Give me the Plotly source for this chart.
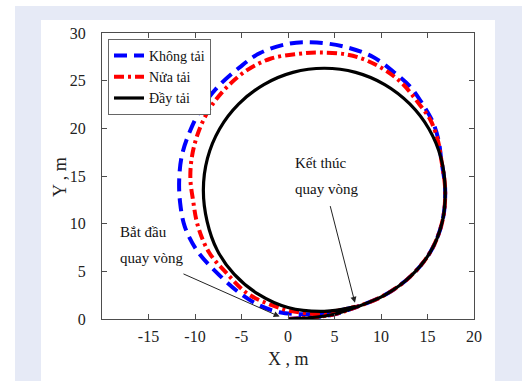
import plotly.graph_objects as go

# Trajectory data, X, Y in metres
khong_tai_x = [0.0, 2.5, 5.0, 7.27, 10.4, 13.2, 15.35, 16.6, 16.9, 16.46, 16.2, 15.6, 14.5, 13.2, 11.5, 9.1, 6.3, 3.1, 0.2, -3.0, -5.2, -7.6, -9.2, -10.5, -11.4, -11.7, -11.6, -11.1, -9.8, -7.8, -5.3, -3.0, -0.9, 1.5, 4.0, 7.3]
khong_tai_y = [0.0, 0.15, 0.5, 1.23, 2.51, 4.5, 7.1, 10.25, 13.55, 16.85, 18.7, 20.6, 22.5, 24.3, 25.8, 27.5, 28.5, 29.0, 28.9, 27.9, 26.4, 24.3, 22.3, 19.8, 17.2, 14.6, 12.2, 9.7, 7.2, 5.0, 2.8, 1.4, 0.7, 0.5, 0.6, 1.3]

nua_tai_x = [0.0, 2.5, 5.0, 7.27, 10.4, 13.2, 15.35, 16.6, 16.9, 16.46, 16.1, 15.3, 13.9, 12.4, 10.6, 8.5, 6.3, 3.4, 1.0, -1.9, -4.4, -6.6, -8.4, -9.6, -10.3, -10.5, -10.2, -9.7, -8.5, -6.6, -4.4, -1.9, 0.5, 3.0, 5.5, 7.3]
nua_tai_y = [0.0, 0.15, 0.5, 1.23, 2.51, 4.5, 7.1, 10.25, 13.55, 16.85, 18.8, 20.9, 22.8, 24.6, 26.0, 27.1, 27.75, 27.95, 27.8, 27.3, 26.1, 24.3, 22.1, 19.7, 17.2, 14.8, 12.4, 9.8, 7.0, 4.8, 2.7, 1.5, 0.8, 0.6, 0.9, 1.3]

day_tai_x = [0.0, 2.5, 5.0, 7.27, 10.4, 13.2, 15.35, 16.6, 16.9, 16.46, 15.16, 13.09, 10.4, 7.27, 3.9, 0.53, -2.6, -5.29, -7.36, -8.66, -9.1, -8.7, -7.6, -5.8, -3.2, 0.0, 3.9, 7.27]
day_tai_y = [0.0, 0.15, 0.5, 1.23, 2.51, 4.5, 7.1, 10.25, 13.55, 16.85, 19.93, 22.56, 24.59, 25.87, 26.3, 25.87, 24.59, 22.56, 19.93, 16.85, 13.55, 10.25, 7.2, 4.7, 2.6, 1.2, 0.8, 1.3]

series_names = ["Không tải", "Nửa tải", "Đầy tải"]
x_ticks = [-15, -10, -5, 0, 5, 10, 15, 20]
y_ticks = [0, 5, 10, 15, 20, 25, 30]

FONT = "Liberation Serif"

fig = go.Figure()
fig.add_trace(go.Scatter(x=khong_tai_x, y=khong_tai_y, mode="lines", name=series_names[0],
                         line=dict(color="#0000ff", width=4, dash="13px,7px", shape="spline", smoothing=1.0)))
fig.add_trace(go.Scatter(x=nua_tai_x, y=nua_tai_y, mode="lines", name=series_names[1],
                         line=dict(color="#ff0000", width=4, dash="10px,4px,3px,4px", shape="spline", smoothing=1.0)))
fig.add_trace(go.Scatter(x=day_tai_x, y=day_tai_y, mode="lines", name=series_names[2],
                         line=dict(color="#000000", width=3.2, shape="spline", smoothing=1.0)))

# Page background frames (lavender frame + white panel)
L, R, T, B = 102, 51, 33, 62
PW, PH = 525 - L - R, 381 - T - B
def px(xp):
    return (xp - L) / PW
def py(yp):
    return (381 - B - yp) / PH

fig.add_shape(type="rect", xref="paper", yref="paper", x0=px(15), x1=px(522), y0=py(381), y1=py(6),
              fillcolor="#e6eaf6", line=dict(width=0), layer="below")
fig.add_shape(type="rect", xref="paper", yref="paper", x0=px(41), x1=px(495), y0=py(381), y1=py(20),
              fillcolor="#ffffff", line=dict(width=0), layer="below")

# Axis titles
title_font = dict(family=FONT, size=18, color="#222222")
fig.add_annotation(xref="paper", yref="paper", x=px(288), y=py(359), text="X , m", showarrow=False,
                   xanchor="center", yanchor="middle", font=title_font)
fig.add_annotation(xref="paper", yref="paper", x=px(60), y=py(177), text="Y , m", showarrow=False,
                   textangle=-90, xanchor="center", yanchor="middle", font=title_font)

# Text annotations
ann_font = dict(family=FONT, size=15, color="#111111")
fig.add_annotation(x=0.5, y=16.4, text="Kết thúc", showarrow=False, xanchor="left", yanchor="middle", font=ann_font)
fig.add_annotation(x=0.5, y=13.6, text="quay vòng", showarrow=False, xanchor="left", yanchor="middle", font=ann_font)
fig.add_annotation(x=-18.3, y=9.1, text="Bắt đầu", showarrow=False, xanchor="left", yanchor="middle", font=ann_font)
fig.add_annotation(x=-18.3, y=6.4, text="quay vòng", showarrow=False, xanchor="left", yanchor="middle", font=ann_font)

# Arrows
fig.add_annotation(x=7.2, y=1.7, ax=4.5, ay=12.0, xref="x", yref="y", axref="x", ayref="y",
                   text="", showarrow=True, arrowhead=2, arrowsize=1.2, arrowwidth=1, arrowcolor="#222222")
fig.add_annotation(x=-0.9, y=0.25, ax=-11.4, ay=4.8, xref="x", yref="y", axref="x", ayref="y",
                   text="", showarrow=True, arrowhead=2, arrowsize=1.2, arrowwidth=1, arrowcolor="#222222")

axis_common = dict(showline=True, linecolor="#4d4d4d", linewidth=1, mirror="ticks", ticks="inside",
                   ticklen=5, tickcolor="#4d4d4d", showgrid=False, zeroline=False,
                   tickfont=dict(family=FONT, size=16, color="#222222"))

fig.update_xaxes(range=[-20, 20], tickvals=x_ticks, ticktext=[str(v) for v in x_ticks],
                 ticklabelstandoff=3, **axis_common)
fig.update_yaxes(range=[0, 30], tickvals=y_ticks, ticktext=[str(v) for v in y_ticks],
                 ticklabelstandoff=12, **axis_common)

fig.update_layout(
    width=525, height=381,
    margin=dict(l=L, r=R, t=T, b=B),
    paper_bgcolor="#ffffff", plot_bgcolor="#ffffff",
    showlegend=True,
    legend=dict(x=px(108), y=py(39), xanchor="left", yanchor="top",
                bgcolor="#ffffff", bordercolor="#666666", borderwidth=1,
                font=dict(family=FONT, size=14, color="#111111"),
                itemwidth=30, tracegroupgap=0),
)

fig.write_html("out.html")
